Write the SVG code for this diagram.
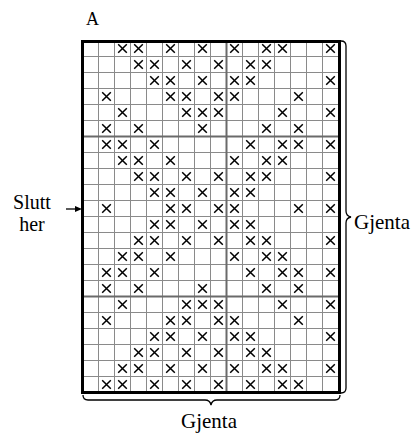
<svg xmlns="http://www.w3.org/2000/svg" xmlns:xlink="http://www.w3.org/1999/xlink" width="414" height="433" viewBox="0 0 414 433">
<style>
.t{font-family:"Liberation Serif","Times New Roman",serif;fill:#000}
.grid{fill:none;stroke:#8a8a8a;stroke-width:1}
.heavy{fill:none;stroke:#6a6a6a;stroke-width:2}
.brace{fill:none;stroke:#000;stroke-width:1.3}
</style>
<defs>
<path id="x" d="M-4.3,-4.3L4.3,4.3M4.3,-4.3L-4.3,4.3" stroke="#000" stroke-width="1.5" fill="none"/>
</defs>
<rect width="414" height="433" fill="#fff"/>
<g id="chart" transform="translate(82.5,40.5)">
<path class="grid" d="M16,0V352M32,0V352M48,0V352M64,0V352M80,0V352M96,0V352M112,0V352M128,0V352M144,0V352M160,0V352M176,0V352M192,0V352M208,0V352M224,0V352M240,0V352M0,16H256M0,32H256M0,48H256M0,64H256M0,80H256M0,96H256M0,112H256M0,128H256M0,144H256M0,160H256M0,176H256M0,192H256M0,208H256M0,224H256M0,240H256M0,256H256M0,272H256M0,288H256M0,304H256M0,320H256M0,336H256"/>
<path class="heavy" d="M0,96H256M0,256H256M144,0V352"/>
<g id="marks">
<use href="#x" x="40" y="8"/><use href="#x" x="56" y="8"/><use href="#x" x="88" y="8"/><use href="#x" x="120" y="8"/><use href="#x" x="152" y="8"/><use href="#x" x="184" y="8"/><use href="#x" x="200" y="8"/><use href="#x" x="248" y="8"/>
<use href="#x" x="56" y="24"/><use href="#x" x="72" y="24"/><use href="#x" x="104" y="24"/><use href="#x" x="136" y="24"/><use href="#x" x="168" y="24"/><use href="#x" x="184" y="24"/>
<use href="#x" x="72" y="40"/><use href="#x" x="88" y="40"/><use href="#x" x="120" y="40"/><use href="#x" x="152" y="40"/><use href="#x" x="168" y="40"/><use href="#x" x="248" y="40"/>
<use href="#x" x="24" y="56"/><use href="#x" x="88" y="56"/><use href="#x" x="104" y="56"/><use href="#x" x="136" y="56"/><use href="#x" x="152" y="56"/><use href="#x" x="216" y="56"/>
<use href="#x" x="40" y="72"/><use href="#x" x="104" y="72"/><use href="#x" x="120" y="72"/><use href="#x" x="136" y="72"/><use href="#x" x="200" y="72"/><use href="#x" x="248" y="72"/>
<use href="#x" x="24" y="88"/><use href="#x" x="56" y="88"/><use href="#x" x="120" y="88"/><use href="#x" x="184" y="88"/><use href="#x" x="216" y="88"/>
<use href="#x" x="24" y="104"/><use href="#x" x="40" y="104"/><use href="#x" x="72" y="104"/><use href="#x" x="168" y="104"/><use href="#x" x="200" y="104"/><use href="#x" x="216" y="104"/><use href="#x" x="248" y="104"/>
<use href="#x" x="40" y="120"/><use href="#x" x="56" y="120"/><use href="#x" x="88" y="120"/><use href="#x" x="152" y="120"/><use href="#x" x="184" y="120"/><use href="#x" x="200" y="120"/>
<use href="#x" x="56" y="136"/><use href="#x" x="72" y="136"/><use href="#x" x="104" y="136"/><use href="#x" x="136" y="136"/><use href="#x" x="168" y="136"/><use href="#x" x="184" y="136"/><use href="#x" x="248" y="136"/>
<use href="#x" x="72" y="152"/><use href="#x" x="88" y="152"/><use href="#x" x="120" y="152"/><use href="#x" x="152" y="152"/><use href="#x" x="168" y="152"/>
<use href="#x" x="24" y="168"/><use href="#x" x="88" y="168"/><use href="#x" x="104" y="168"/><use href="#x" x="136" y="168"/><use href="#x" x="152" y="168"/><use href="#x" x="216" y="168"/><use href="#x" x="248" y="168"/>
<use href="#x" x="72" y="184"/><use href="#x" x="88" y="184"/><use href="#x" x="120" y="184"/><use href="#x" x="152" y="184"/><use href="#x" x="168" y="184"/>
<use href="#x" x="56" y="200"/><use href="#x" x="72" y="200"/><use href="#x" x="104" y="200"/><use href="#x" x="136" y="200"/><use href="#x" x="168" y="200"/><use href="#x" x="184" y="200"/><use href="#x" x="248" y="200"/>
<use href="#x" x="40" y="216"/><use href="#x" x="56" y="216"/><use href="#x" x="88" y="216"/><use href="#x" x="152" y="216"/><use href="#x" x="184" y="216"/><use href="#x" x="200" y="216"/>
<use href="#x" x="24" y="232"/><use href="#x" x="40" y="232"/><use href="#x" x="72" y="232"/><use href="#x" x="168" y="232"/><use href="#x" x="200" y="232"/><use href="#x" x="216" y="232"/><use href="#x" x="248" y="232"/>
<use href="#x" x="24" y="248"/><use href="#x" x="56" y="248"/><use href="#x" x="120" y="248"/><use href="#x" x="184" y="248"/><use href="#x" x="216" y="248"/>
<use href="#x" x="40" y="264"/><use href="#x" x="104" y="264"/><use href="#x" x="120" y="264"/><use href="#x" x="136" y="264"/><use href="#x" x="200" y="264"/><use href="#x" x="248" y="264"/>
<use href="#x" x="24" y="280"/><use href="#x" x="88" y="280"/><use href="#x" x="104" y="280"/><use href="#x" x="136" y="280"/><use href="#x" x="152" y="280"/><use href="#x" x="216" y="280"/>
<use href="#x" x="72" y="296"/><use href="#x" x="88" y="296"/><use href="#x" x="120" y="296"/><use href="#x" x="152" y="296"/><use href="#x" x="168" y="296"/><use href="#x" x="248" y="296"/>
<use href="#x" x="56" y="312"/><use href="#x" x="72" y="312"/><use href="#x" x="104" y="312"/><use href="#x" x="136" y="312"/><use href="#x" x="168" y="312"/><use href="#x" x="184" y="312"/>
<use href="#x" x="40" y="328"/><use href="#x" x="56" y="328"/><use href="#x" x="88" y="328"/><use href="#x" x="120" y="328"/><use href="#x" x="152" y="328"/><use href="#x" x="184" y="328"/><use href="#x" x="200" y="328"/><use href="#x" x="248" y="328"/>
<use href="#x" x="24" y="344"/><use href="#x" x="40" y="344"/><use href="#x" x="72" y="344"/><use href="#x" x="104" y="344"/><use href="#x" x="136" y="344"/><use href="#x" x="168" y="344"/><use href="#x" x="200" y="344"/><use href="#x" x="216" y="344"/>
</g>
<rect x="0" y="1" width="257" height="351" fill="none" stroke="#000" stroke-width="3"/>
</g>
<g id="label-A"><text class="t" x="86" y="25" font-size="18">A</text></g>
<g id="label-slutt">
<text class="t" x="32" y="209" font-size="20" text-anchor="middle">Slutt</text>
<text class="t" x="32" y="231" font-size="20" text-anchor="middle">her</text>
</g>
<g id="connectors">
<line x1="66" y1="209" x2="77" y2="209" stroke="#000" stroke-width="1.3"/>
<polygon points="75,206 82,209 75,212" fill="#000"/>
<path class="brace" d="M341,41Q346,41 346,46L346,211Q346,216 351,217Q346,218 346,223L346,388Q346,393 341,393"/>
<path class="brace" d="M83,395Q83,400 88,400L205,400Q210,400 211,405Q212,400 217,400L335,400Q340,400 340,395"/>
</g>
<g id="label-gjenta-right"><text class="t" x="354" y="229" font-size="21">Gjenta</text></g>
<g id="label-gjenta-bottom"><text class="t" x="209" y="428" font-size="21" text-anchor="middle">Gjenta</text></g>
</svg>
